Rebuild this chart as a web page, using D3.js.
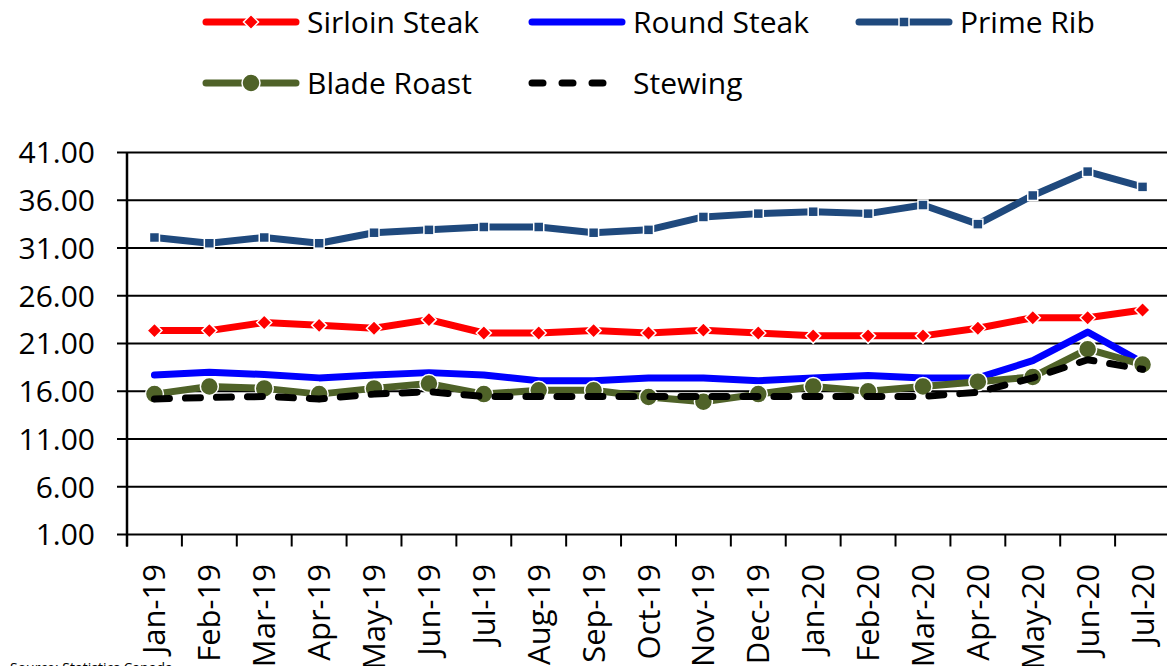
<!DOCTYPE html>
<html>
<head>
<style>
body { margin: 0; background: #fff; }
svg { display: block; font-family: "Open Sans", sans-serif; }
</style>
</head>
<body>
<div id="chart"></div>
<script src="https://d3js.org/d3.v7.min.js"></script>
<script>
// data
var months = ["Jan-19","Feb-19","Mar-19","Apr-19","May-19","Jun-19","Jul-19","Aug-19","Sep-19","Oct-19",
              "Nov-19","Dec-19","Jan-20","Feb-20","Mar-20","Apr-20","May-20","Jun-20","Jul-20"]
var sirloin = [22.35,22.35,23.2,22.9,22.6,23.5,22.1,22.1,22.35,22.1,22.4,22.1,21.8,21.8,21.8,22.6,23.7,23.7,24.5]
var round   = [17.7,18.0,17.75,17.4,17.7,17.95,17.7,17.1,17.1,17.4,17.4,17.1,17.4,17.65,17.4,17.4,19.2,22.2,19.0]
var prime   = [32.1,31.5,32.1,31.5,32.6,32.9,33.2,33.2,32.6,32.9,34.25,34.6,34.8,34.6,35.5,33.5,36.5,39.0,37.4]
var blade   = [15.7,16.5,16.3,15.7,16.3,16.8,15.7,16.1,16.1,15.4,14.9,15.7,16.5,16.0,16.5,17.0,17.5,20.4,18.8]
var stewing = [15.2,15.35,15.45,15.2,15.7,15.95,15.45,15.45,15.45,15.45,15.45,15.45,15.45,15.45,15.45,15.9,17.4,19.3,18.3]
var yTicks = [1,6,11,16,21,26,31,36,41]

var series = [
  {name: "Sirloin Steak", values: sirloin, color: "#FF0000", marker: "diamond"},
  {name: "Round Steak", values: round, color: "#0000FF", marker: null},
  {name: "Prime Rib", values: prime, color: "#1F497D", marker: "square"},
  {name: "Blade Roast", values: blade, color: "#4F6228", marker: "circle"},
  {name: "Stewing", values: stewing, color: "#000000", marker: null, dash: "15,16"}
]

var width = 1167, height = 666
var plotLeft = 127, plotRight = 1170, plotTop = 152.5, plotBottom = 534.5

var svg = d3.select("#chart").append("svg")
  .attr("width", width)
  .attr("height", height)

var x = d3.scaleBand().domain(months).range([plotLeft, plotRight]).padding(0)
var y = d3.scaleLinear().domain([1, 41]).range([plotBottom, plotTop])

// gridlines (with the little outside tick on the left)
svg.append("g")
  .selectAll("line")
  .data(yTicks)
  .enter()
  .append("line")
    .attr("x1", plotLeft - 10)
    .attr("x2", width)
    .attr("y1", function(d){ return y(d) })
    .attr("y2", function(d){ return y(d) })
    .attr("stroke", "#000")
    .attr("stroke-width", 2)

// y labels
svg.append("g")
  .selectAll("text")
  .data(yTicks)
  .enter()
  .append("text")
    .attr("x", 95)
    .attr("y", function(d){ return y(d) })
    .attr("dy", "0.36em")
    .attr("text-anchor", "end")
    .style("font-size", "30px")
    .attr("fill", "#000")
    .text(function(d){ return d3.format(".2f")(d) })

// y axis line
svg.append("line")
  .attr("x1", plotLeft).attr("x2", plotLeft)
  .attr("y1", plotTop).attr("y2", plotBottom + 12)
  .attr("stroke", "#000").attr("stroke-width", 2.5)

// x ticks at category edges
svg.append("g")
  .selectAll("line")
  .data(months)
  .enter()
  .append("line")
    .attr("x1", function(d){ return x(d) })
    .attr("x2", function(d){ return x(d) })
    .attr("y1", plotBottom)
    .attr("y2", plotBottom + 12)
    .attr("stroke", "#000")
    .attr("stroke-width", 2)

// x labels, rotated
svg.append("g")
  .selectAll("text")
  .data(months)
  .enter()
  .append("text")
    .attr("transform", function(d){ return "translate(" + (x(d) + x.bandwidth() / 2 + 11) + "," + 564 + ") rotate(-90)" })
    .attr("text-anchor", "end")
    .style("font-size", "31px")
    .attr("fill", "#000")
    .text(function(d){ return d })

var line = d3.line()
  .x(function(d, i){ return x(months[i]) + x.bandwidth() / 2 })
  .y(function(d){ return y(d) })

function drawMarker(g, type, color, cx, cy) {
  if (type == "diamond") {
    g.append("path")
      .attr("d", "M" + cx + "," + (cy - 7.5) + "L" + (cx + 7.5) + "," + cy + "L" + cx + "," + (cy + 7.5) + "L" + (cx - 7.5) + "," + cy + "Z")
      .attr("fill", color).attr("stroke", "#fff").attr("stroke-width", 1.5)
  } else if (type == "square") {
    g.append("rect")
      .attr("x", cx - 5).attr("y", cy - 5).attr("width", 10).attr("height", 10)
      .attr("fill", color).attr("stroke", "#fff").attr("stroke-width", 1.5)
  } else if (type == "circle") {
    g.append("circle")
      .attr("cx", cx).attr("cy", cy).attr("r", 9)
      .attr("fill", color).attr("stroke", "#fff").attr("stroke-width", 1.5)
  }
}

// series
series.forEach(function(s){
  var g = svg.append("g")
  g.append("path")
    .datum(s.values)
    .attr("d", line)
    .attr("fill", "none")
    .attr("stroke", s.color)
    .attr("stroke-width", 7)
    .attr("stroke-linejoin", "round")
    .attr("stroke-linecap", "round")
    .attr("stroke-dasharray", s.dash ? s.dash : null)
  if (s.marker) {
    s.values.forEach(function(v, i){
      drawMarker(g, s.marker, s.color, x(months[i]) + x.bandwidth() / 2, y(v))
    })
  }
})

// legend
var legendPos = [[203, 22], [529, 22], [856, 22], [203, 83], [529, 83]]
series.forEach(function(s, i){
  var lx = legendPos[i][0], ly = legendPos[i][1]
  var g = svg.append("g")
  g.append("line")
    .attr("x1", lx + 3).attr("x2", lx + 93)
    .attr("y1", ly).attr("y2", ly)
    .attr("stroke", s.color)
    .attr("stroke-width", 7)
    .attr("stroke-linecap", "round")
    .attr("stroke-dasharray", s.dash ? "11,19" : null)
  if (s.marker) drawMarker(g, s.marker, s.color, lx + 48, ly)
  g.append("text")
    .attr("x", lx + 104)
    .attr("y", ly)
    .attr("dy", "0.36em")
    .style("font-size", "30px")
    .attr("fill", "#000")
    .text(s.name)
})

// source note, cut off by the bottom edge
svg.append("text")
  .attr("x", 10)
  .attr("y", 673)
  .style("font-size", "14px")
  .attr("fill", "#000")
  .text("Source: Statistics Canada")
</script>
</body>
</html>
